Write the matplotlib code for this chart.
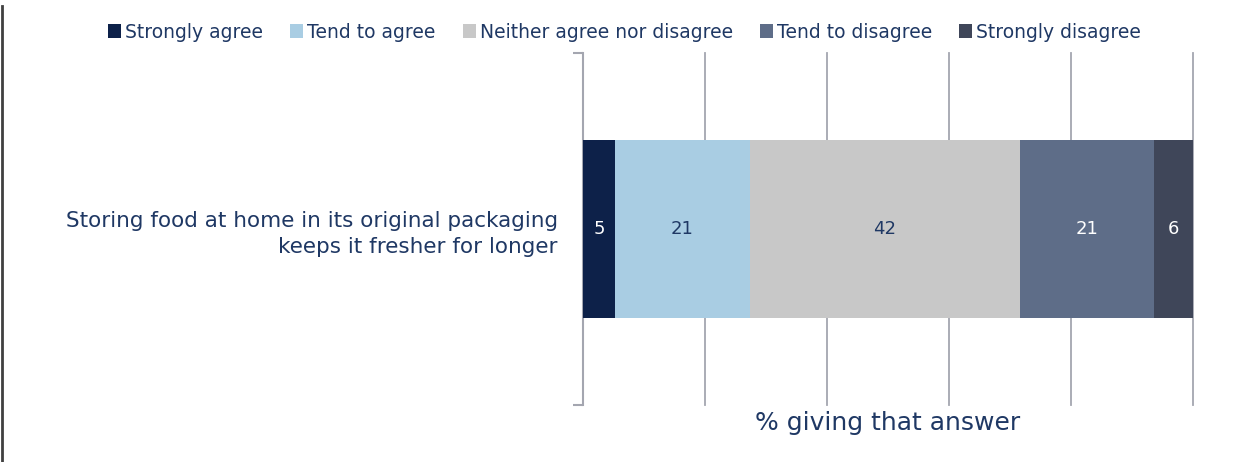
import matplotlib
matplotlib.use("Agg")
import matplotlib.pyplot as plt
from matplotlib.lines import Line2D

# Survey answers for one statement (% giving that answer)
statement = "Storing food at home in its original packaging\nkeeps it fresher for longer"
answers = ["Strongly agree", "Tend to agree", "Neither agree nor disagree",
           "Tend to disagree", "Strongly disagree"]
values = [5, 21, 42, 21, 6]
colors = ["#0D2149", "#A9CDE3", "#C8C8C8", "#5E6D88", "#3F4659"]
label_colors = ["white", "#1F3864", "#1F3864", "white", "white"]

TEXT = "#1F3864"
GRID = "#A4A6B0"


def main():
    fig = plt.figure(figsize=(12.37, 4.62), dpi=100)
    ax = fig.add_axes([583 / 1237, 1 - 405 / 462, 610 / 1237, 352 / 462])

    # 100% stacked bar, so scale by the total of the answers shown
    total = float(sum(values))
    left = 0.0
    for name, v, c, lc in zip(answers, values, colors, label_colors):
        w = v / total * 100
        ax.barh(0, w, left=left, height=0.503, color=c, label=name, zorder=3)
        ax.text(left + w / 2, 0, str(v), ha="center", va="center",
                color=lc, fontsize=13, zorder=4)
        left += w

    ax.set_xlim(0, 100)
    ax.set_ylim(-0.5, 0.5)
    ax.set_xticks([0, 20, 40, 60, 80, 100])
    ax.tick_params(axis="x", length=0, labelbottom=False)
    ax.grid(axis="x", color=GRID, linewidth=1.3, zorder=0)
    for gl in ax.get_xgridlines():
        gl.set_clip_on(False)

    ax.set_yticks([0])
    ax.set_yticklabels([statement], fontsize=15.5, color=TEXT, linespacing=1.35)
    ax.tick_params(axis="y", which="major", length=0, pad=18)
    ax.set_yticks([-0.5, 0.5], minor=True)
    ax.tick_params(axis="y", which="minor", length=7, width=1.5, color=GRID)

    for s in ["top", "right", "bottom"]:
        ax.spines[s].set_visible(False)
    ax.spines["left"].set_color(GRID)
    ax.spines["left"].set_linewidth(1.5)

    ax.set_xlabel("% giving that answer", fontsize=18, color=TEXT, labelpad=4)

    fig.legend(loc="center", bbox_to_anchor=(0.505, 1 - 32 / 462), ncol=5,
               frameon=False, fontsize=13.5, labelcolor=TEXT,
               handlelength=0.7, handleheight=0.7, handletextpad=0.2,
               columnspacing=1.45)

    # frame edge on the left of the image
    fig.add_artist(Line2D([1.5 / 1237, 1.5 / 1237], [0, 1 - 6 / 462],
                          transform=fig.transFigure, color="#404040", linewidth=2))

    fig.savefig("out.png", dpi=100)


if __name__ == "__main__":
    main()
